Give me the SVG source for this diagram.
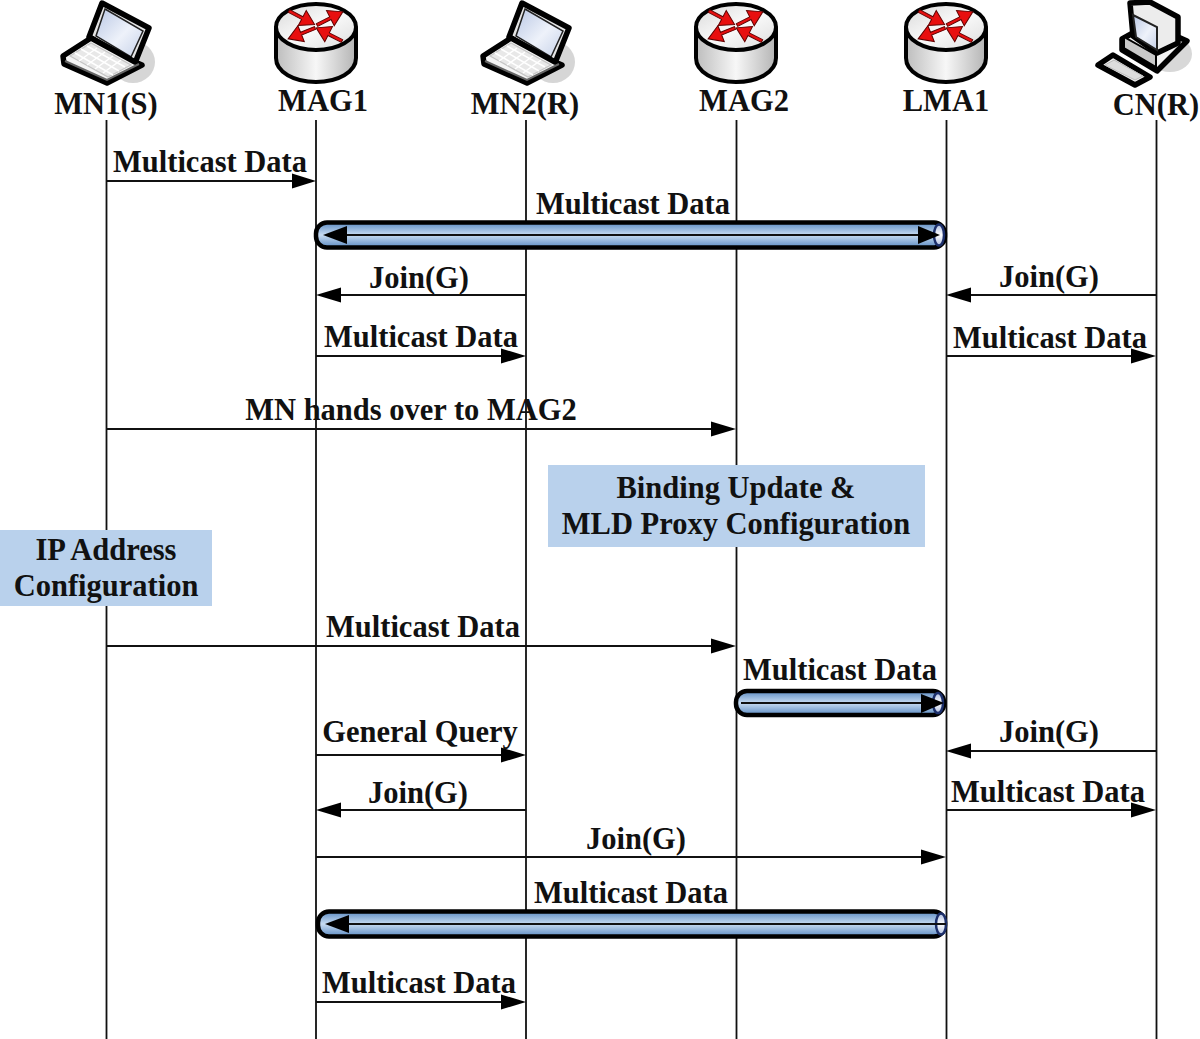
<svg xmlns="http://www.w3.org/2000/svg" width="1200" height="1039" viewBox="0 0 1200 1039">
<style>
text{font-family:"Liberation Serif","Times New Roman",serif;font-weight:bold;font-size:30.500px;fill:#111;text-anchor:middle}
.life{stroke:#111;stroke-width:1.800;fill:none}
.msg{stroke:#111;stroke-width:1.800;fill:none}
.head{fill:#000}
.tube{fill:url(#tubeFill);stroke:#000;stroke-width:4.500}
.cap{fill:url(#capFill);stroke:#1c2f6b;stroke-width:2.500}
.note{fill:#b9d1ec}
.ol{stroke:#000;stroke-width:5.500;stroke-linejoin:round}
.ol2{stroke:#000;stroke-width:4;stroke-linejoin:round}
</style>
<defs>
<linearGradient id="tubeFill" x1="0" y1="0" x2="0" y2="1">
<stop offset="0" stop-color="#5c8bc2"/><stop offset=".5" stop-color="#c8dcf2"/><stop offset="1" stop-color="#5c8bc2"/>
</linearGradient>
<linearGradient id="capFill" x1="0" y1="0" x2="0" y2="1">
<stop offset="0" stop-color="#aebde0"/><stop offset=".5" stop-color="#ffffff"/><stop offset="1" stop-color="#aebde0"/>
</linearGradient>
<linearGradient id="drum" x1="0" y1="0" x2="1" y2="0">
<stop offset="0" stop-color="#bdbdbd"/><stop offset=".5" stop-color="#f7f7f7"/><stop offset="1" stop-color="#b4b4b4"/>
</linearGradient>
<linearGradient id="plate" x1="0" y1="0" x2="1" y2="1">
<stop offset="0" stop-color="#d8d8d8"/><stop offset=".5" stop-color="#fafafa"/><stop offset="1" stop-color="#dcdcdc"/>
</linearGradient>
<linearGradient id="screen" x1="0" y1="0" x2="1" y2="1">
<stop offset="0" stop-color="#b9c7e4"/><stop offset=".55" stop-color="#eef2fa"/><stop offset="1" stop-color="#c5d0e8"/>
</linearGradient>
<path id="ra" d="M0-1.500H15V-8.500L29 0 15 8.500V1.500H0Z" fill="#e80f0f" stroke="#600000" stroke-width="1"/>
<symbol id="laptop" viewBox="0 0 100 90" width="100" height="90" overflow="visible">
<ellipse cx="72" cy="62" rx="22" ry="21" fill="#d6d6d6"/>
<path class="ol" d="M41 3 88 28 74 63 28 37Z" fill="#e4e4e4"/>
<path d="M44 9 82 31 70 57 35 36Z" fill="url(#screen)" stroke="#222" stroke-width="1.500"/>
<path class="ol" d="M30 38 2 56 3 64 46 83 81 65 74 62Z" fill="#f4f4f4"/>
<path d="M9 56 30 43 70 65 47 77Z" fill="#e8e8e8" stroke="#c4c4c4" stroke-width="1.200"/>
<path d="M14 53 52 75M20 49 58 71M26 46 64 67M18 61 36 48M26 65 44 52M34 69 52 56M42 73 60 60" stroke="#fff" stroke-width="1.500" fill="none"/>
<path d="M4 61 46 80 78 64" stroke="#666" stroke-width="2" fill="none"/>
</symbol>
<symbol id="router" viewBox="0 0 84 84" width="84" height="84" overflow="visible">
<path class="ol2" d="M2 26V56C2 70 20 80 42 80S82 70 82 56V26Z" fill="url(#drum)"/>
<ellipse class="ol2" cx="42" cy="25" rx="40" ry="23" fill="url(#plate)"/>
<use href="#ra" transform="translate(15 9) rotate(28)"/>
<use href="#ra" transform="translate(43 23) rotate(-27)"/>
<use href="#ra" transform="translate(41 26) rotate(158)"/>
<use href="#ra" transform="translate(68 39) rotate(207)"/>
</symbol>
<symbol id="desktop" viewBox="0 0 100 90" width="100" height="90" overflow="visible">
<ellipse cx="74" cy="54" rx="22" ry="18" fill="#d8d8d8"/>
<path class="ol" d="M26 39 53 24 91 41 61 71 26 50Z" fill="#f2f2f2"/>
<path d="M28 48 60 67V55L28 37Z" fill="#c9c9c9" stroke="#000" stroke-width="2"/>
<path class="ol" d="M34 3 54 2 82 17V43L61 53 37 36Z" fill="#ececec"/>
<path d="M37 15 61 27 61 50 40 37Z" fill="url(#screen)" stroke="#222" stroke-width="2"/>
<path class="ol" d="M2 65 17 55 54 77 39 85Z" fill="#f0f0f0"/>
<path d="M9 65 18 60 47 76 39 80Z" fill="#ddd" stroke="#bbb"/>
</symbol>
</defs>

<!-- lifelines and messages -->
<g id="connectors">
<path class="life" d="M106.500 120V1039M316 120V1039M526 120V1039M736.500 120V1039M946.500 120V1039M1156.500 120V1039"/>
<g id="tube-mag1-lma1">
<rect class="tube" x="316" y="222.500" width="629" height="25" rx="11"/>
<ellipse class="cap" cx="939" cy="235" rx="5" ry="10.500"/>
<path class="msg" d="M335 235H928"/>
<path class="head" d="M323 235 347 226V244Z"/>
<path class="head" d="M940 235 918 226V244Z"/>
</g>
<g id="tube-mag2-lma1">
<rect class="tube" x="736" y="691" width="208" height="24" rx="11"/>
<ellipse class="cap" cx="938" cy="703" rx="5" ry="10"/>
<path class="msg" d="M741 703H925"/>
<path class="head" d="M944 703 921 694V713Z"/>
</g>
<g id="tube-lma1-mag1">
<rect class="tube" x="318" y="911.500" width="627" height="25" rx="11"/>
<ellipse class="cap" cx="941" cy="924" rx="5" ry="10.500"/>
<path class="msg" d="M340 924H946"/>
<path class="head" d="M325 924 349 915V933Z"/>
</g>
<g class="msg">
<path d="M106 181H295M526 295H337M1156 295H967M316 356H505M946 356H1135M106 429H715M106 646H715M316 755H505M1156 751H967M526 810H337M946 810H1135M316 857H925M316 1002H505"/>
</g>
<g class="head">
<path d="M316 181 292 173.500V188.500Z"/>
<path d="M316 295 341 287.500V302.500Z"/>
<path d="M946 295 971 287.500V302.500Z"/>
<path d="M526 356 501 348.500V363.500Z"/>
<path d="M1156 356 1131 348.500V363.500Z"/>
<path d="M736 429 711 421.500V436.500Z"/>
<path d="M736 646 711 638.500V653.500Z"/>
<path d="M526 755 501 747.500V762.500Z"/>
<path d="M946 751 971 743.500V758.500Z"/>
<path d="M316 810 341 802.500V817.500Z"/>
<path d="M1156 810 1131 802.500V817.500Z"/>
<path d="M946 857 921 849.500V864.500Z"/>
<path d="M526 1002 501 994.500V1009.500Z"/>
</g>
</g>

<!-- shaded state notes -->
<g id="note-binding"><rect class="note" x="548" y="465" width="377" height="82"/>
<text x="736" y="498">Binding Update &amp;</text><text x="736" y="534">MLD Proxy Configuration</text></g>
<g id="note-ip"><rect class="note" x="0" y="530" width="212" height="76"/>
<text x="106" y="560">IP Address</text><text x="106" y="596">Configuration</text></g>

<!-- message labels -->
<g id="labels">
<text x="210" y="172">Multicast Data</text>
<text x="633" y="214">Multicast Data</text>
<text x="419" y="288">Join(G)</text>
<text x="1049" y="287">Join(G)</text>
<text x="421" y="347">Multicast Data</text>
<text x="1050" y="348">Multicast Data</text>
<text x="411" y="420">MN hands over to MAG2</text>
<text x="423" y="637">Multicast Data</text>
<text x="840" y="680">Multicast Data</text>
<text x="420" y="742">General Query</text>
<text x="1049" y="742">Join(G)</text>
<text x="418" y="803">Join(G)</text>
<text x="1048" y="802">Multicast Data</text>
<text x="636" y="849">Join(G)</text>
<text x="631" y="903">Multicast Data</text>
<text x="419" y="993">Multicast Data</text>
</g>

<!-- participants -->
<g id="node-mn1"><use href="#laptop" x="61" y="0"/><text x="106" y="114">MN1(S)</text></g>
<g id="node-mag1"><use href="#router" x="274" y="2"/><text x="323" y="111">MAG1</text></g>
<g id="node-mn2"><use href="#laptop" x="481" y="0"/><text x="525" y="114">MN2(R)</text></g>
<g id="node-mag2"><use href="#router" x="694" y="2"/><text x="744" y="111">MAG2</text></g>
<g id="node-lma1"><use href="#router" x="904" y="2"/><text x="946" y="111">LMA1</text></g>
<g id="node-cn"><use href="#desktop" x="1096" y="0"/><text x="1156" y="115">CN(R)</text></g>
</svg>
